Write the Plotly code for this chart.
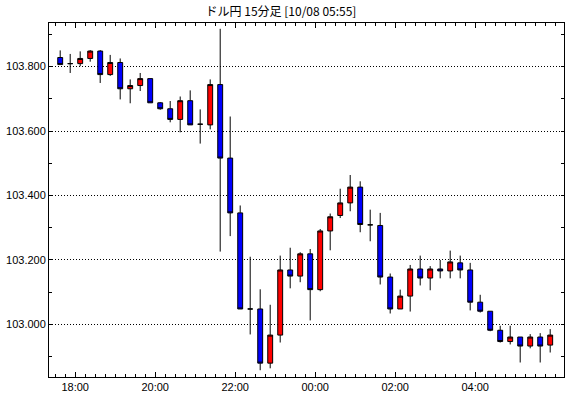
import plotly.graph_objects as go
import pandas as pd

times = [
    "2020-10-07 17:30", "2020-10-07 17:45", "2020-10-07 18:00", "2020-10-07 18:15",
    "2020-10-07 18:30", "2020-10-07 18:45", "2020-10-07 19:00", "2020-10-07 19:15",
    "2020-10-07 19:30", "2020-10-07 19:45", "2020-10-07 20:00", "2020-10-07 20:15",
    "2020-10-07 20:30", "2020-10-07 20:45", "2020-10-07 21:00", "2020-10-07 21:15",
    "2020-10-07 21:30", "2020-10-07 21:45", "2020-10-07 22:00", "2020-10-07 22:15",
    "2020-10-07 22:30", "2020-10-07 22:45", "2020-10-07 23:00", "2020-10-07 23:15",
    "2020-10-07 23:30", "2020-10-07 23:45", "2020-10-08 00:00", "2020-10-08 00:15",
    "2020-10-08 00:30", "2020-10-08 00:45", "2020-10-08 01:00", "2020-10-08 01:15",
    "2020-10-08 01:30", "2020-10-08 01:45", "2020-10-08 02:00", "2020-10-08 02:15",
    "2020-10-08 02:30", "2020-10-08 02:45", "2020-10-08 03:00", "2020-10-08 03:15",
    "2020-10-08 03:30", "2020-10-08 03:45", "2020-10-08 04:00", "2020-10-08 04:15",
    "2020-10-08 04:30", "2020-10-08 04:45", "2020-10-08 05:00", "2020-10-08 05:15",
    "2020-10-08 05:30", "2020-10-08 05:45",
]

opens = [
    103.828, 103.809, 103.809, 103.825, 103.848, 103.775, 103.8125, 103.731,
    103.741, 103.7625, 103.6875, 103.669, 103.636, 103.694, 103.621, 103.619,
    103.744, 103.516, 103.346, 103.048, 103.048, 102.880, 102.967, 103.169,
    103.150, 103.219, 103.108, 103.290, 103.338, 103.377, 103.426, 103.309,
    103.307, 103.147, 103.048, 103.088, 103.172, 103.144, 103.172, 103.166,
    103.191, 103.169, 103.069, 103.041, 102.982, 102.947, 102.961, 102.933,
    102.961, 102.936,
]
highs = [
    103.850, 103.839, 103.847, 103.851, 103.851, 103.836, 103.825, 103.760,
    103.780, 103.7625, 103.690, 103.693, 103.707, 103.726, 103.667, 103.760,
    103.917, 103.645, 103.369, 103.210, 103.109, 103.061, 103.2135, 103.238,
    103.224, 103.234, 103.296, 103.344, 103.421, 103.4635, 103.444, 103.356,
    103.346, 103.158, 103.108, 103.1845, 103.2135, 103.181, 103.200, 103.229,
    103.2135, 103.191, 103.092, 103.041, 102.996, 102.996, 102.961, 102.970,
    102.973, 102.9855,
]
lows = [
    103.806, 103.780, 103.801, 103.815, 103.749, 103.771, 103.698, 103.686,
    103.724, 103.6875, 103.666, 103.627, 103.596, 103.619, 103.561, 103.605,
    103.226, 103.274, 103.048, 102.969, 102.858, 102.864, 102.944, 103.112,
    103.131, 103.0125, 103.103, 103.230, 103.330, 103.351, 103.286, 103.258,
    103.124, 103.034, 103.048, 103.040, 103.121, 103.106, 103.143, 103.143,
    103.143, 103.0435, 103.037, 102.979, 102.944, 102.938, 102.882, 102.926,
    102.882, 102.913,
]
closes = [
    103.806, 103.809, 103.825, 103.848, 103.775, 103.8125, 103.731, 103.741,
    103.7625, 103.6875, 103.669, 103.636, 103.694, 103.619, 103.621, 103.744,
    103.516, 103.346, 103.048, 103.048, 102.880, 102.967, 103.169, 103.150,
    103.219, 103.108, 103.290, 103.334, 103.377, 103.426, 103.310, 103.309,
    103.147, 103.048, 103.088, 103.172, 103.144, 103.172, 103.166, 103.194,
    103.169, 103.069, 103.041, 102.982, 102.947, 102.961, 102.933, 102.961,
    102.933, 102.967,
]

y_ticks = [103.0, 103.2, 103.4, 103.6, 103.8]
y_tick_labels = ["103.000", "103.200", "103.400", "103.600", "103.800"]
x_ticks = ["2020-10-07 18:00", "2020-10-07 20:00", "2020-10-07 22:00",
           "2020-10-08 00:00", "2020-10-08 02:00", "2020-10-08 04:00"]
x_tick_labels = ["18:00", "20:00", "22:00", "00:00", "02:00", "04:00"]
title_text = "ドル円 15分足 [10/08 05:55]"

# candles are drawn at the middle of their 15-minute period
centers = pd.to_datetime(times) + pd.Timedelta(minutes=7.5)

fig = go.Figure(go.Candlestick(
    x=centers, open=opens, high=highs, low=lows, close=closes,
    increasing=dict(fillcolor="#ff0000", line=dict(color="#000000", width=1)),
    decreasing=dict(fillcolor="#0000ff", line=dict(color="#000000", width=1)),
    whiskerwidth=0, hoverinfo="skip",
))

tickfont = dict(family="Liberation Sans, Arial, sans-serif", size=11, color="#000000")

fig.update_layout(
    width=570, height=398,
    margin=dict(l=49, r=6, t=23, b=21),
    paper_bgcolor="#ffffff", plot_bgcolor="#ffffff",
    showlegend=False,
    title=dict(text=title_text, x=0.493, xref="container", xanchor="center",
               y=1 - 12 / 398, yref="container", yanchor="middle",
               font=dict(family="Noto Sans CJK JP, sans-serif", size=12, color="#000000")),
    xaxis=dict(
        type="date",
        range=["2020-10-07 17:20:42", "2020-10-08 06:13:12"],
        rangeslider=dict(visible=False),
        tickmode="array", tickvals=x_ticks, ticktext=x_tick_labels,
        ticks="inside", ticklen=5, tickwidth=1, tickcolor="#000000",
        minor=dict(dtick=15 * 60 * 1000, tick0="2020-10-07 18:00",
                   ticks="inside", ticklen=3, tickwidth=1, tickcolor="#000000"),
        showgrid=False, zeroline=False,
        showline=True, linecolor="#000000", linewidth=1, mirror="ticks",
        tickfont=tickfont,
    ),
    yaxis=dict(
        range=[102.837, 103.935],
        tickmode="array", tickvals=y_ticks, ticktext=y_tick_labels,
        ticks="inside", ticklen=3, tickwidth=1, tickcolor="#000000",
        minor=dict(dtick=0.1, tick0=102.9, ticks="inside", ticklen=3,
                   tickwidth=1, tickcolor="#000000", showgrid=False),
        showgrid=True, gridcolor="#000000", gridwidth=1, griddash="1px,2px",
        zeroline=False,
        showline=True, linecolor="#000000", linewidth=1, mirror="ticks",
        tickfont=tickfont,
    ),
)

fig.write_html("out.html")
